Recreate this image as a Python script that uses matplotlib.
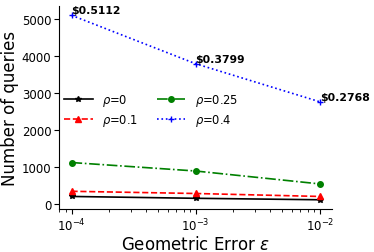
import numpy as np
import matplotlib
matplotlib.use("Agg")
import matplotlib.pyplot as plt

eps = [1e-4, 1e-3, 1e-2]
q_rho0 = [200, 150, 110]
q_rho01 = [340, 280, 200]
q_rho025 = [1120, 890, 540]
q_rho04 = [5112, 3799, 2768]
costs = ["$0.5112", "$0.3799", "$0.2768"]

fig, ax = plt.subplots(figsize=(3.74, 2.53), dpi=100)
ax.plot(eps, q_rho0, color='black', ls='-', marker='*', ms=4, lw=1.2, label=r'$\rho$=0')
ax.plot(eps, q_rho01, color='red', ls='--', marker='^', ms=4, lw=1.2, label=r'$\rho$=0.1')
ax.plot(eps, q_rho025, color='green', ls='-.', marker='o', ms=4, lw=1.2, label=r'$\rho$=0.25')
ax.plot(eps, q_rho04, color='blue', ls=':', marker='+', ms=5, lw=1.2, label=r'$\rho$=0.4')

for x, y, c in zip(eps, q_rho04, costs):
    ax.annotate(c.replace('$', r'\$'), (x, y), ha='left', va='bottom',
                fontsize=7.8, fontweight='bold')

ax.set_xscale('log')
ax.set_xlabel(r'Geometric Error $\epsilon$', fontsize=12, labelpad=1)
ax.set_ylabel('Number of queries', fontsize=12, labelpad=2)
ax.tick_params(labelsize=8.5, pad=2)
ax.spines['top'].set_visible(False)
ax.spines['right'].set_visible(False)
ax.legend(ncol=2, frameon=False, fontsize=8.3, loc='center left',
          bbox_to_anchor=(-0.02, 0.49), handlelength=2.5, columnspacing=1.6,
          labelspacing=0.35)

fig.subplots_adjust(left=0.158, right=0.888, top=0.972, bottom=0.17)
fig.savefig('out.png', dpi=100)
